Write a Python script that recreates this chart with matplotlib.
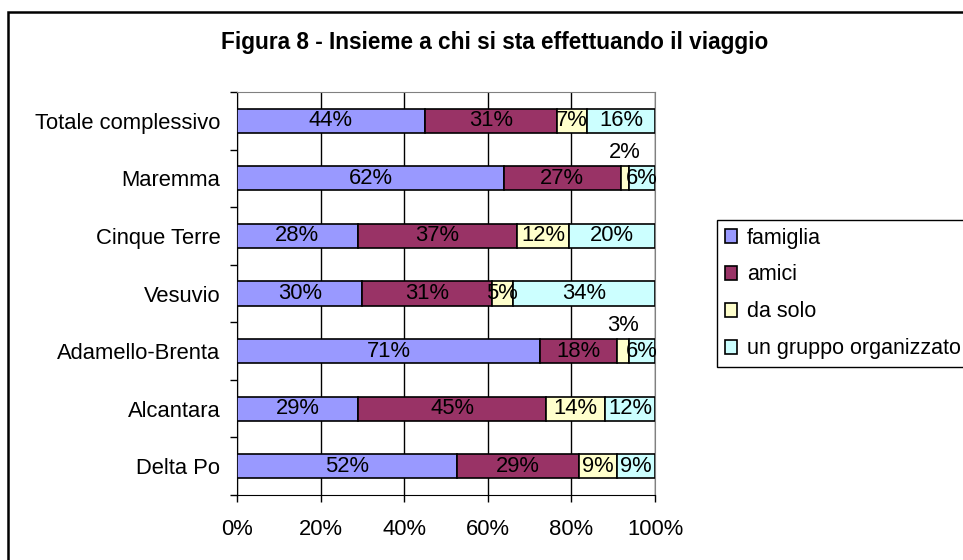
import numpy as np
import matplotlib.pyplot as plt
from matplotlib.patches import Rectangle

plt.rcParams['font.family'] = ['Liberation Sans', 'DejaVu Sans']

luoghi = ['Totale complessivo', 'Maremma', 'Cinque Terre', 'Vesuvio',
          'Adamello-Brenta', 'Alcantara', 'Delta Po']
famiglia = [44, 62, 28, 30, 71, 29, 52]
amici = [31, 27, 37, 31, 18, 45, 29]
da_solo = [7, 2, 12, 5, 3, 14, 9]
gruppo = [16, 6, 20, 34, 6, 12, 9]
serie = ['famiglia', 'amici', 'da solo', 'un gruppo organizzato']
colori = ['#9999FF', '#993366', '#FFFFCC', '#CCFFFF']
xtick_vals = [0, 20, 40, 60, 80, 100]

W, H = 963, 560
fig = plt.figure(figsize=(W/100, H/100), dpi=100)

# cornice esterna (tagliata a destra e in basso come nell'originale)
fig.patches.append(Rectangle((8/W, -0.1), 2, (H-12)/H + 0.1, transform=fig.transFigure,
                             fill=False, edgecolor='black', lw=1.8))

ax = fig.add_axes([237/W, (H-495)/H, 418/W, 403/H])

dati = np.array([famiglia, amici, da_solo, gruppo], dtype=float)
quote = dati / dati.sum(axis=0) * 100
ypos = np.arange(len(luoghi))[::-1]
left = np.zeros(len(luoghi))
fs = 15.8
for i in range(len(serie)):
    ax.barh(ypos, quote[i], left=left, height=0.42, color=colori[i],
            edgecolor='black', lw=1.2, label=serie[i], zorder=3)
    for j in range(len(luoghi)):
        xc = left[j] + quote[i][j]/2
        lab = f'{int(dati[i][j])}%'
        if dati[i][j] <= 3:
            ax.text(xc, ypos[j]+0.45, lab, ha='center', va='center', fontsize=fs, zorder=5)
        else:
            ax.text(xc, ypos[j], lab, ha='center', va='center', fontsize=fs, zorder=5)
    left += quote[i]

ax.set_xlim(0, 100)
ax.set_ylim(-0.5, 6.5)
ax.set_xticks(xtick_vals)
ax.set_xticklabels([f'{v}%' for v in xtick_vals])
ax.set_yticks(np.arange(-0.5, 7, 1))
ax.set_yticklabels([])
ax.set_yticks(ypos, minor=True)
ax.set_yticklabels(luoghi, minor=True)
ax.tick_params(axis='y', which='minor', length=0, pad=12, labelsize=fs)
ax.tick_params(axis='y', which='major', length=5, direction='out', width=1)
ax.tick_params(axis='x', length=5, width=1, pad=12, labelsize=fs)
ax.set_axisbelow(True)
ax.grid(axis='x', color='black', lw=1)
for s in ['top', 'right']:
    ax.spines[s].set_color('#808080')

leg = fig.legend(loc='upper left', bbox_to_anchor=(717/W, 1-220/H), borderaxespad=0,
                 fancybox=False, edgecolor='black', framealpha=1, fontsize=15.5,
                 handlelength=0.6, handleheight=0.6, handletextpad=0.45, labelspacing=0.74,
                 borderpad=0.35)

fig.text(495/W, 1-42/H, 'Figura 8 - Insieme a chi si sta effettuando il viaggio',
         ha='center', va='center', fontsize=16.3, fontweight='bold')

fig.savefig('out.png', dpi=100)
